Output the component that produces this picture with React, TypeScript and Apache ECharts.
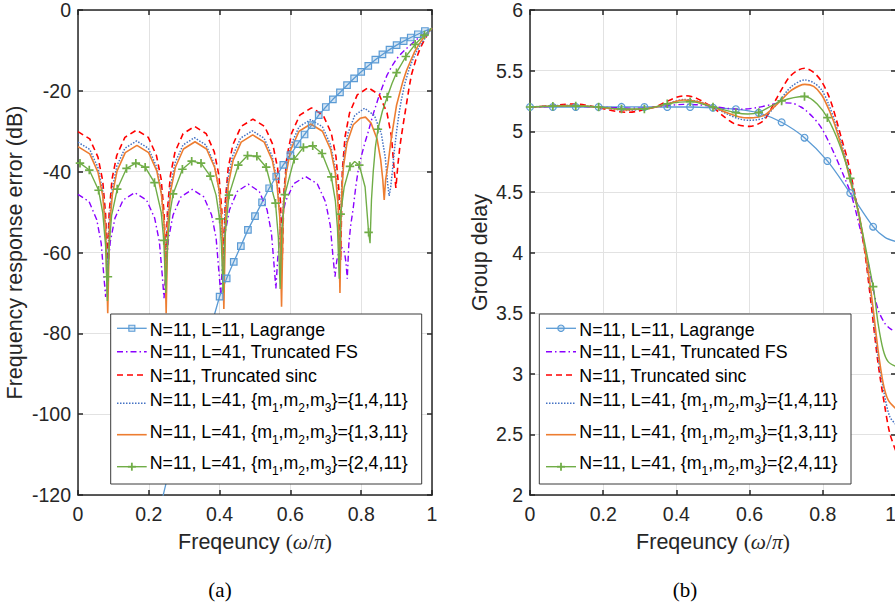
import React, { useEffect, useRef } from 'react';
import * as echarts from 'echarts';

// ---------------- DATA ----------------
// Panel (a): frequency response error (dB) vs normalised frequency
const lagrangeErrMarked = [
  [0.40, -70.9], [0.42, -66.4], [0.44, -62.3], [0.46, -58.4], [0.48, -54.4], [0.50, -51.0],
  [0.52, -47.6], [0.54, -44.1], [0.56, -41.2], [0.58, -38.3], [0.60, -35.9], [0.62, -33.2],
  [0.64, -30.8], [0.66, -28.5], [0.68, -26.0], [0.70, -24.0], [0.72, -22.1], [0.74, -20.4],
  [0.76, -18.6], [0.78, -16.9], [0.80, -15.3], [0.82, -13.8], [0.84, -12.3], [0.86, -11.0],
  [0.88, -9.8], [0.90, -8.7], [0.92, -7.7], [0.94, -6.8], [0.96, -6.0], [0.98, -5.2],
];
const lagrangeErrTail = [
  [0.22, -128], [0.24, -120.3], [0.26, -113], [0.28, -106.5], [0.30, -100], [0.32, -94],
  [0.34, -88], [0.36, -82.5], [0.38, -77], [1.0, -4.5],
];
const truncFSErr = [
  [0, -45.6], [0.0312, -47.4], [0.053, -51.9], [0.0655, -57.7], [0.0733, -66.1], [0.078, -71],
  [0.083, -65.7], [0.0912, -57.3], [0.1044, -51.5], [0.1275, -47.0], [0.1605, -45.2], [0.1935, -47.0],
  [0.2166, -51.5], [0.2298, -57.3], [0.2381, -65.7], [0.243, -71.3],
  [0.2478, -64.9], [0.2558, -56.5], [0.2686, -50.7], [0.291, -46.2], [0.323, -44.4], [0.355, -46.2],
  [0.3774, -50.7], [0.3902, -56.5], [0.3982, -64.9], [0.403, -70],
  [0.4077, -63.6], [0.4155, -55.2], [0.428, -49.4], [0.4498, -44.9], [0.481, -43.1], [0.5122, -44.9],
  [0.534, -49.4], [0.5465, -55.2], [0.5543, -63.6], [0.559, -68.9],
  [0.564, -61.7], [0.5724, -53.3], [0.5857, -47.5], [0.6091, -43.0], [0.6425, -41.2], [0.6759, -43.0],
  [0.6993, -47.5], [0.7126, -53.3], [0.721, -61.7], [0.726, -66],
  [0.731, -62], [0.737, -59.8], [0.745, -58.7], [0.753, -60], [0.757, -62.5], [0.7606, -66.5],
  [0.765, -58], [0.770, -53.5], [0.7775, -49], [0.785, -43.5], [0.7916, -39.6], [0.80, -36.3],
  [0.81, -33], [0.82, -30.1], [0.833, -26], [0.848, -21.9], [0.86, -19], [0.872, -16.3],
  [0.886, -14], [0.90, -12.1], [0.916, -10.5], [0.933, -9.1], [0.95, -7.8], [0.966, -6.6],
  [0.98, -5.7], [0.994, -4.9], [1.0, -4.6],
];
const truncSincErr = [
  [0, -30.1], [0.0332, -31.9], [0.0564, -36.4], [0.0697, -42.2], [0.078, -50.6], [0.083, -62],
  [0.088, -50.2], [0.0962, -41.8], [0.1094, -36.0], [0.1325, -31.5], [0.1655, -29.7], [0.1985, -31.5],
  [0.2216, -36.0], [0.2348, -41.8], [0.2431, -50.2], [0.248, -62],
  [0.2529, -49.3], [0.261, -40.9], [0.2741, -35.1], [0.2969, -30.6], [0.3295, -28.8], [0.3621, -30.6],
  [0.3849, -35.1], [0.398, -40.9], [0.4061, -49.3], [0.411, -62],
  [0.416, -47.5], [0.4243, -39.1], [0.4376, -33.3], [0.4608, -28.8], [0.494, -27], [0.5272, -28.8],
  [0.5504, -33.3], [0.5638, -39.1], [0.572, -47.5], [0.577, -62],
  [0.582, -44.7], [0.5902, -36.3], [0.6034, -30.5], [0.6265, -26.0], [0.6595, -24.2], [0.6925, -26.0],
  [0.7156, -30.5], [0.7288, -36.3], [0.7371, -44.7], [0.742, -62],
  [0.7467, -39.7], [0.7545, -31.3], [0.767, -25.5], [0.7888, -21], [0.82, -19.2], [0.8512, -21],
  [0.873, -25.5], [0.8855, -31.3], [0.8933, -39.7], [0.898, -44],
  [0.904, -38], [0.909, -34], [0.914, -30.9], [0.921, -27], [0.928, -23.2], [0.935, -19.4],
  [0.942, -16], [0.954, -12.4], [0.966, -9.6], [0.978, -7.5], [0.989, -5.8], [1.0, -4.5],
];
const fir1411Err = [
  [0, -32.7], [0.0332, -34.5], [0.0564, -39.0], [0.0697, -44.8], [0.078, -53.2], [0.083, -65],
  [0.088, -52.9], [0.0962, -44.5], [0.1094, -38.7], [0.1325, -34.2], [0.1655, -32.4], [0.1985, -34.2],
  [0.2216, -38.7], [0.2348, -44.5], [0.2431, -52.9], [0.248, -65],
  [0.2529, -52.1], [0.261, -43.7], [0.2739, -37.9], [0.2966, -33.4], [0.329, -31.6], [0.3614, -33.4],
  [0.3841, -37.9], [0.397, -43.7], [0.4051, -52.1], [0.41, -65],
  [0.415, -50.4], [0.4232, -42.0], [0.4364, -36.2], [0.4595, -31.7], [0.4925, -29.9], [0.5255, -31.7],
  [0.5486, -36.2], [0.5618, -42.0], [0.5701, -50.4], [0.575, -65],
  [0.58, -47.6], [0.5882, -39.2], [0.6014, -33.4], [0.6245, -28.9], [0.6575, -27.1], [0.6905, -28.9],
  [0.7136, -33.4], [0.7268, -39.2], [0.7351, -47.6], [0.74, -65],
  [0.7442, -44.8], [0.7511, -36.4], [0.7622, -30.6], [0.7817, -26.1], [0.8095, -24.3], [0.8373, -26.1],
  [0.8568, -30.6], [0.8679, -36.4], [0.8748, -43], [0.879, -46],
  [0.883, -44], [0.888, -40], [0.894, -34.5], [0.90, -30], [0.907, -25.5], [0.914, -22],
  [0.923, -18.3], [0.933, -15.3], [0.944, -12.6], [0.956, -10.3], [0.968, -8.5], [0.98, -7],
  [0.99, -5.7], [1.0, -4.6],
];
const fir1311Err = [
  [0, -33.8], [0.0332, -35.6], [0.0564, -40.1], [0.0697, -45.9], [0.078, -54.3], [0.084, -75],
  [0.089, -54], [0.0972, -45.6], [0.1104, -39.8], [0.1335, -35.3], [0.1665, -33.5], [0.1995, -35.3],
  [0.2226, -39.8], [0.2358, -45.6], [0.2441, -54], [0.249, -75],
  [0.2539, -53.1], [0.262, -44.7], [0.2751, -38.9], [0.2979, -34.4], [0.3305, -32.6], [0.3631, -34.4],
  [0.3859, -38.9], [0.399, -44.7], [0.4071, -53.1], [0.412, -74],
  [0.4169, -51.4], [0.425, -43], [0.4381, -37.2], [0.4609, -32.7], [0.4935, -30.9], [0.5261, -32.7],
  [0.5489, -37.2], [0.562, -43], [0.5701, -51.4], [0.575, -73.4],
  [0.58, -48.7], [0.5882, -40.3], [0.6014, -34.5], [0.6245, -30.0], [0.6575, -28.2], [0.6905, -30.0],
  [0.7136, -34.5], [0.7268, -40.3], [0.7351, -48.7], [0.74, -70],
  [0.7438, -47.1], [0.75, -38.7], [0.76, -32.9], [0.7775, -28.4], [0.797, -26.8], [0.812, -26.5],
  [0.828, -28], [0.845, -32], [0.855, -37], [0.861, -42], [0.865, -47],
  [0.869, -42], [0.876, -38], [0.883, -33], [0.89, -29], [0.90, -23.5], [0.909, -20.5],
  [0.918, -17.6], [0.928, -15], [0.94, -12.5], [0.951, -10.3], [0.963, -8.5], [0.975, -7],
  [0.988, -5.6], [1.0, -4.5],
];
const fir2411ErrMarked = [
  [0.0056, -37.9], [0.0319, -39.6], [0.0582, -44.6], [0.0845, -66], [0.1108, -44.3], [0.1371, -39.2],
  [0.1634, -37.9], [0.1897, -38.9], [0.2160, -42.7], [0.2423, -57], [0.2686, -45.5], [0.2949, -39.4],
  [0.3212, -37.4], [0.3475, -37.9], [0.3738, -41.1], [0.4001, -51.7], [0.4264, -45.8], [0.4527, -38.4],
  [0.4790, -36.0], [0.5053, -36.2], [0.5316, -38.9], [0.5579, -47.8], [0.5842, -45.7], [0.6105, -36.9],
  [0.6368, -34.0], [0.6631, -33.6], [0.6894, -35.5], [0.7157, -41.3], [0.7420, -50.5], [0.7683, -38.7],
  [0.7946, -38.4], [0.8209, -55], [0.8472, -29.5], [0.8735, -21.5], [0.8998, -15.5], [0.9261, -11.5],
  [0.9524, -8.5], [0.9787, -6.2],
];
const fir2411ErrExtra = [
  [0, -37.9], [0.07, -50.2], [0.078, -58.4], [0.083, -72], [0.088, -58.4], [0.095, -50.8],
  [0.235, -50], [0.248, -70], [0.253, -57.8], [0.26, -50.1],
  [0.39, -45.8], [0.405, -57.8], [0.41, -70], [0.415, -56.3],
  [0.566, -56.3], [0.571, -69], [0.576, -54],
  [0.727, -47.2], [0.733, -54], [0.738, -66.5], [0.752, -43.8], [0.7815, -37.5], [0.811, -43.8],
  [0.825, -57.7], [0.829, -47], [0.834, -40], [0.84, -34], [0.86, -25], [0.887, -18.2], [1.0, -4.5],
];

// Panel (b): group delay vs normalised frequency
const lagrangeGdMarked = [
  [0, 5.2], [0.0625, 5.2], [0.125, 5.2], [0.1875, 5.2], [0.25, 5.201], [0.3125, 5.2], [0.375, 5.2],
  [0.4375, 5.2], [0.5, 5.194], [0.5625, 5.182], [0.625, 5.152], [0.6875, 5.074], [0.75, 4.947],
  [0.8125, 4.755], [0.875, 4.49], [0.9375, 4.213],
];
const lagrangeGdTail = [[0.97, 4.125], [1.0, 4.09]];
const truncFSGd = [
  [0, 5.2], [0.05, 5.203], [0.1, 5.206], [0.15, 5.203], [0.2, 5.198], [0.25, 5.192], [0.29, 5.19],
  [0.34, 5.198], [0.38, 5.212], [0.42, 5.222], [0.46, 5.218], [0.5, 5.204], [0.54, 5.188],
  [0.58, 5.182], [0.62, 5.195], [0.66, 5.22], [0.6875, 5.234], [0.715, 5.232], [0.74, 5.2],
  [0.751, 5.178], [0.775, 5.11], [0.797, 5.024], [0.815, 4.92], [0.833, 4.804], [0.86, 4.612],
  [0.878, 4.474], [0.9, 4.22], [0.92, 3.97], [0.935, 3.74], [0.951, 3.53], [0.9695, 3.416],
  [0.985, 3.37], [1.0, 3.345],
];
const truncSincGd = [
  [0, 5.2], [0.03, 5.204], [0.06, 5.213], [0.09, 5.221], [0.12, 5.225], [0.15, 5.217], [0.18, 5.2],
  [0.21, 5.18], [0.24, 5.162], [0.265, 5.156], [0.29, 5.163], [0.32, 5.183], [0.346, 5.205],
  [0.37, 5.24], [0.4, 5.28], [0.424, 5.293], [0.45, 5.278], [0.475, 5.24], [0.501, 5.195],
  [0.53, 5.12], [0.56, 5.06], [0.6, 5.04], [0.62, 5.055], [0.642, 5.1], [0.674, 5.272],
  [0.706, 5.436], [0.73, 5.5], [0.751, 5.519], [0.775, 5.485], [0.797, 5.409], [0.815, 5.3],
  [0.828, 5.189], [0.851, 4.942], [0.869, 4.749], [0.888, 4.474], [0.9, 4.28], [0.915, 4.0],
  [0.933, 3.55], [0.951, 3.086], [0.9695, 2.728], [0.983, 2.509], [1.0, 2.36],
];
const fir1411Gd = [
  [0, 5.2], [0.06, 5.21], [0.12, 5.214], [0.18, 5.2], [0.22, 5.186], [0.265, 5.172], [0.31, 5.184],
  [0.346, 5.202], [0.38, 5.232], [0.42, 5.262], [0.46, 5.246], [0.501, 5.198], [0.54, 5.14],
  [0.57, 5.104], [0.6, 5.09], [0.62, 5.095], [0.642, 5.115], [0.683, 5.258], [0.715, 5.37],
  [0.751, 5.423], [0.775, 5.4], [0.797, 5.34], [0.815, 5.23], [0.833, 5.079], [0.86, 4.804],
  [0.883, 4.529], [0.9, 4.3], [0.92, 3.92], [0.935, 3.56], [0.951, 3.14], [0.9695, 2.81],
  [0.983, 2.646], [1.0, 2.58],
];
const fir1311Gd = [
  [0, 5.2], [0.06, 5.207], [0.12, 5.211], [0.18, 5.2], [0.22, 5.188], [0.265, 5.176], [0.31, 5.186],
  [0.346, 5.201], [0.38, 5.23], [0.42, 5.258], [0.46, 5.243], [0.501, 5.2], [0.54, 5.15],
  [0.57, 5.12], [0.6, 5.11], [0.62, 5.115], [0.642, 5.135], [0.683, 5.247], [0.715, 5.34],
  [0.751, 5.387], [0.775, 5.37], [0.797, 5.299], [0.815, 5.19], [0.833, 5.052], [0.86, 4.777],
  [0.878, 4.557], [0.9, 4.3], [0.92, 3.93], [0.935, 3.6], [0.951, 3.196], [0.965, 2.921],
  [0.9785, 2.784], [1.0, 2.71],
];
const fir2411GdMarked = [
  [0, 5.2], [0.0625, 5.207], [0.125, 5.208], [0.1875, 5.2], [0.25, 5.184], [0.3125, 5.184],
  [0.375, 5.226], [0.4375, 5.244], [0.5, 5.2], [0.5625, 5.153], [0.625, 5.155], [0.6875, 5.25],
  [0.75, 5.287], [0.8125, 5.112], [0.875, 4.612], [0.9375, 3.718],
];
const fir2411GdExtra = [[0.595, 5.142], [0.951, 3.416], [0.965, 3.196], [0.9785, 3.1], [1.0, 3.06]];

const legendLabels = [
  'N=11, L=11, Lagrange',
  'N=11, L=41, Truncated FS',
  'N=11, Truncated sinc',
  'N=11, L=41, {m{s|1},m{s|2},m{s|3}}={1,4,11}',
  'N=11, L=41, {m{s|1},m{s|2},m{s|3}}={1,3,11}',
  'N=11, L=41, {m{s|1},m{s|2},m{s|3}}={2,4,11}',
];
const yTitleA = 'Frequency response error (dB)';
const yTitleB = 'Group delay';
const xTitle = 'Freqeuncy {s|(}{i|ω}{s|/}{i|π}{s|)}';
const captions = ['(a)', '(b)'];

// ---------------- STYLES ----------------
const SANS = "'Liberation Sans', Arial, Helvetica, sans-serif";
const SERIF = "'Liberation Serif', 'Times New Roman', serif";
const AX = '#262626';
const GRIDC = '#e2e2e2';
const C_LAG = '#5B9BD5';
const C_FS = '#8A00FF';
const C_SINC = '#FF0000';
const C_1411 = '#4472C4';
const C_1311 = '#ED7D31';
const C_2411 = '#70AD47';
const PLUS = 'path://M4,0H6V4H10V6H6V10H4V6H0V4H4Z';

const seriesStyles = [
  { color: C_LAG, width: 1.3, type: 'solid' as any },
  { color: C_FS, width: 1.4, type: [6, 3, 1.5, 3] as any },
  { color: C_SINC, width: 1.6, type: [6, 4] as any },
  { color: C_1411, width: 1.5, type: [1.5, 1.5] as any },
  { color: C_1311, width: 1.6, type: 'solid' as any },
  { color: C_2411, width: 1.4, type: 'solid' as any },
];

function withMarkers(plainPts: number[][], markerPts: number[][]) {
  const items: any[] = plainPts
    .map((p) => ({ value: [p[0], p[1]], symbol: 'none' }))
    .concat(markerPts.map((p) => ({ value: [p[0], p[1]] } as any)));
  items.sort((a, b) => a.value[0] - b.value[0]);
  return items;
}

function lineSeries(idx: number, data: any[], axis: number, smooth: number | false, sym?: any) {
  const s = seriesStyles[idx];
  const base: any = {
    type: 'line',
    xAxisIndex: axis,
    yAxisIndex: axis,
    data,
    smooth,
    silent: true,
    clip: true,
    emphasis: { disabled: true },
    lineStyle: { color: s.color, width: s.width, type: s.type },
    showSymbol: !!sym,
    showAllSymbol: true,
  };
  if (sym) Object.assign(base, sym);
  else base.symbol = 'none';
  return base;
}

function axisX(gridIndex: number, top: boolean, alignMax: boolean) {
  return {
    type: 'value', gridIndex, min: 0, max: 1, interval: 0.2, position: top ? 'top' : 'bottom',
    axisLine: { show: true, onZero: false, lineStyle: { color: AX, width: 1.5 } },
    axisTick: { show: true, inside: true, length: 5, lineStyle: { color: AX, width: 1.5 } },
    axisLabel: top
      ? { show: false }
      : { color: AX, fontSize: 19.5, fontFamily: SANS, margin: 9, alignMaxLabel: alignMax ? 'right' : undefined },
    splitLine: { show: !top, lineStyle: { color: GRIDC, width: 1 } },
  };
}
function axisY(gridIndex: number, right: boolean, min: number, max: number, interval: number) {
  return {
    type: 'value', gridIndex, min, max, interval, position: right ? 'right' : 'left',
    axisLine: { show: true, onZero: false, lineStyle: { color: AX, width: 1.5 } },
    axisTick: { show: true, inside: true, length: 5, lineStyle: { color: AX, width: 1.5 } },
    axisLabel: right ? { show: false } : { color: AX, fontSize: 19.5, fontFamily: SANS, margin: 7 },
    splitLine: { show: !right, lineStyle: { color: GRIDC, width: 1 } },
  };
}

function legendGraphics(bx: number, by: number, bw: number, bh: number, lx0: number, lx1: number, tx: number, lagCircle: boolean) {
  const els: any[] = [];
  const Z = 100;
  els.push({ type: 'rect', z: Z, shape: { x: bx, y: by, width: bw, height: bh }, style: { fill: '#fff', stroke: '#3a3a3a', lineWidth: 1 } });
  const lineY = [328.3, 351.7, 375, 403.3, 434.7, 466.7];
  const textY = [329.5, 352.1, 375.8, 399.8, 431.7, 463.4];
  const cx = (lx0 + lx1) / 2;
  legendLabels.forEach((label, i) => {
    const s = seriesStyles[i];
    const dash = Array.isArray(s.type) ? s.type : null;
    els.push({ type: 'line', z: Z + 1, shape: { x1: lx0, y1: lineY[i], x2: lx1, y2: lineY[i] }, style: { stroke: s.color, lineWidth: s.width, lineDash: dash } });
    if (i === 0) {
      if (lagCircle) els.push({ type: 'circle', z: Z + 2, shape: { cx, cy: lineY[i], r: 3.2 }, style: { fill: 'rgba(91,155,213,0.25)', stroke: s.color, lineWidth: 1.1 } });
      else els.push({ type: 'rect', z: Z + 2, shape: { x: cx - 3, y: lineY[i] - 3, width: 6, height: 6 }, style: { fill: 'rgba(91,155,213,0.25)', stroke: s.color, lineWidth: 1.1 } });
    }
    if (i === 5) {
      els.push({ type: 'line', z: Z + 2, shape: { x1: cx - 4, y1: lineY[i], x2: cx + 4, y2: lineY[i] }, style: { stroke: s.color, lineWidth: 1.8 } });
      els.push({ type: 'line', z: Z + 2, shape: { x1: cx, y1: lineY[i] - 4, x2: cx, y2: lineY[i] + 4 }, style: { stroke: s.color, lineWidth: 1.8 } });
    }
    const hasSub = i >= 3;
    els.push({
      type: 'text', z: Z + 2, x: tx, y: textY[i],
      style: {
        text: label, fill: '#000', fontSize: 17.8, fontFamily: SANS,
        align: 'left', textAlign: 'left', verticalAlign: 'middle', textVerticalAlign: 'middle',
        lineHeight: hasSub ? 28 : undefined,
        rich: { s: { fontSize: 12, fontFamily: SANS, fill: '#000', color: '#000', lineHeight: 12, verticalAlign: 'bottom' } },
      },
    });
  });
  return els;
}

function titleText(x: number, y: number, text: string, rot: number) {
  return {
    type: 'text', z: 100, x, y, rotation: rot,
    style: {
      text, fill: AX, fontSize: 21.5, fontFamily: SANS,
      align: 'center', textAlign: 'center', verticalAlign: 'middle', textVerticalAlign: 'middle',
      rich: {
        s: { fontSize: 21.5, fontFamily: SERIF, fill: AX, color: AX },
        i: { fontSize: 21.5, fontFamily: SERIF, fontStyle: 'italic', fill: AX, color: AX },
      },
    },
  };
}

function buildOption() {
  const lagSymL = { symbol: 'rect', symbolSize: 6.5, itemStyle: { color: 'rgba(91,155,213,0.25)', borderColor: C_LAG, borderWidth: 1.2 } };
  const lagSymR = { symbol: 'circle', symbolSize: 6.8, itemStyle: { color: 'rgba(91,155,213,0.12)', borderColor: C_LAG, borderWidth: 1.2 } };
  const plusSym = { symbol: PLUS, symbolSize: 8.5, itemStyle: { color: C_2411, borderWidth: 0 } };
  const sm = 0.3;
  const series = [
    lineSeries(0, withMarkers(lagrangeErrTail, lagrangeErrMarked), 0, false, lagSymL),
    lineSeries(1, truncFSErr, 0, false),
    lineSeries(2, truncSincErr, 0, false),
    lineSeries(3, fir1411Err, 0, false),
    lineSeries(4, fir1311Err, 0, false),
    lineSeries(5, withMarkers(fir2411ErrExtra, fir2411ErrMarked), 0, false, plusSym),
    lineSeries(0, withMarkers(lagrangeGdTail, lagrangeGdMarked), 2, sm, lagSymR),
    lineSeries(1, truncFSGd, 2, sm),
    lineSeries(2, truncSincGd, 2, sm),
    lineSeries(3, fir1411Gd, 2, sm),
    lineSeries(4, fir1311Gd, 2, sm),
    lineSeries(5, withMarkers(fir2411GdExtra, fir2411GdMarked), 2, sm, plusSym),
  ];
  const graphic = [
    ...legendGraphics(110.7, 314, 311, 170, 117, 146.7, 149.7, false),
    ...legendGraphics(539.3, 314, 311.7, 170, 546, 576, 579.3, true),
    titleText(14.7, 252.5, yTitleA, Math.PI / 2),
    titleText(480, 252.5, yTitleB, Math.PI / 2),
    titleText(255, 541.5, xTitle, 0),
    titleText(713, 541.5, xTitle, 0),
    { type: 'text', z: 100, x: 220, y: 590, style: { text: captions[0], fill: '#000', fontSize: 21, fontFamily: SERIF, align: 'center', textAlign: 'center', verticalAlign: 'middle', textVerticalAlign: 'middle' } },
    { type: 'text', z: 100, x: 685, y: 590, style: { text: captions[1], fill: '#000', fontSize: 21, fontFamily: SERIF, align: 'center', textAlign: 'center', verticalAlign: 'middle', textVerticalAlign: 'middle' } },
  ];
  return {
    animation: false,
    backgroundColor: '#fff',
    textStyle: { fontFamily: SANS },
    grid: [
      { left: 78, top: 10, width: 354, height: 485, outerBoundsMode: 'none', containLabel: false },
      { left: 530, top: 10, width: 366, height: 485, outerBoundsMode: 'none', containLabel: false },
    ],
    xAxis: [axisX(0, false, false), axisX(0, true, false), axisX(1, false, true), axisX(1, true, false)],
    yAxis: [axisY(0, false, -120, 0, 20), axisY(0, true, -120, 0, 20), axisY(1, false, 2, 6, 0.5), axisY(1, true, 2, 6, 0.5)],
    series,
    graphic,
  };
}

export default function App() {
  const ref = useRef<HTMLDivElement>(null);
  useEffect(() => {
    if (!ref.current) return;
    const chart = echarts.init(ref.current, null, { renderer: 'svg' });
    chart.setOption(buildOption() as any);
    return () => chart.dispose();
  }, []);
  return (
    <div style={{ position: 'fixed', left: 0, top: 0, width: 895, height: 606, overflow: 'hidden', background: '#fff' }}>
      <div ref={ref} style={{ width: 920, height: 606 }} />
    </div>
  );
}
